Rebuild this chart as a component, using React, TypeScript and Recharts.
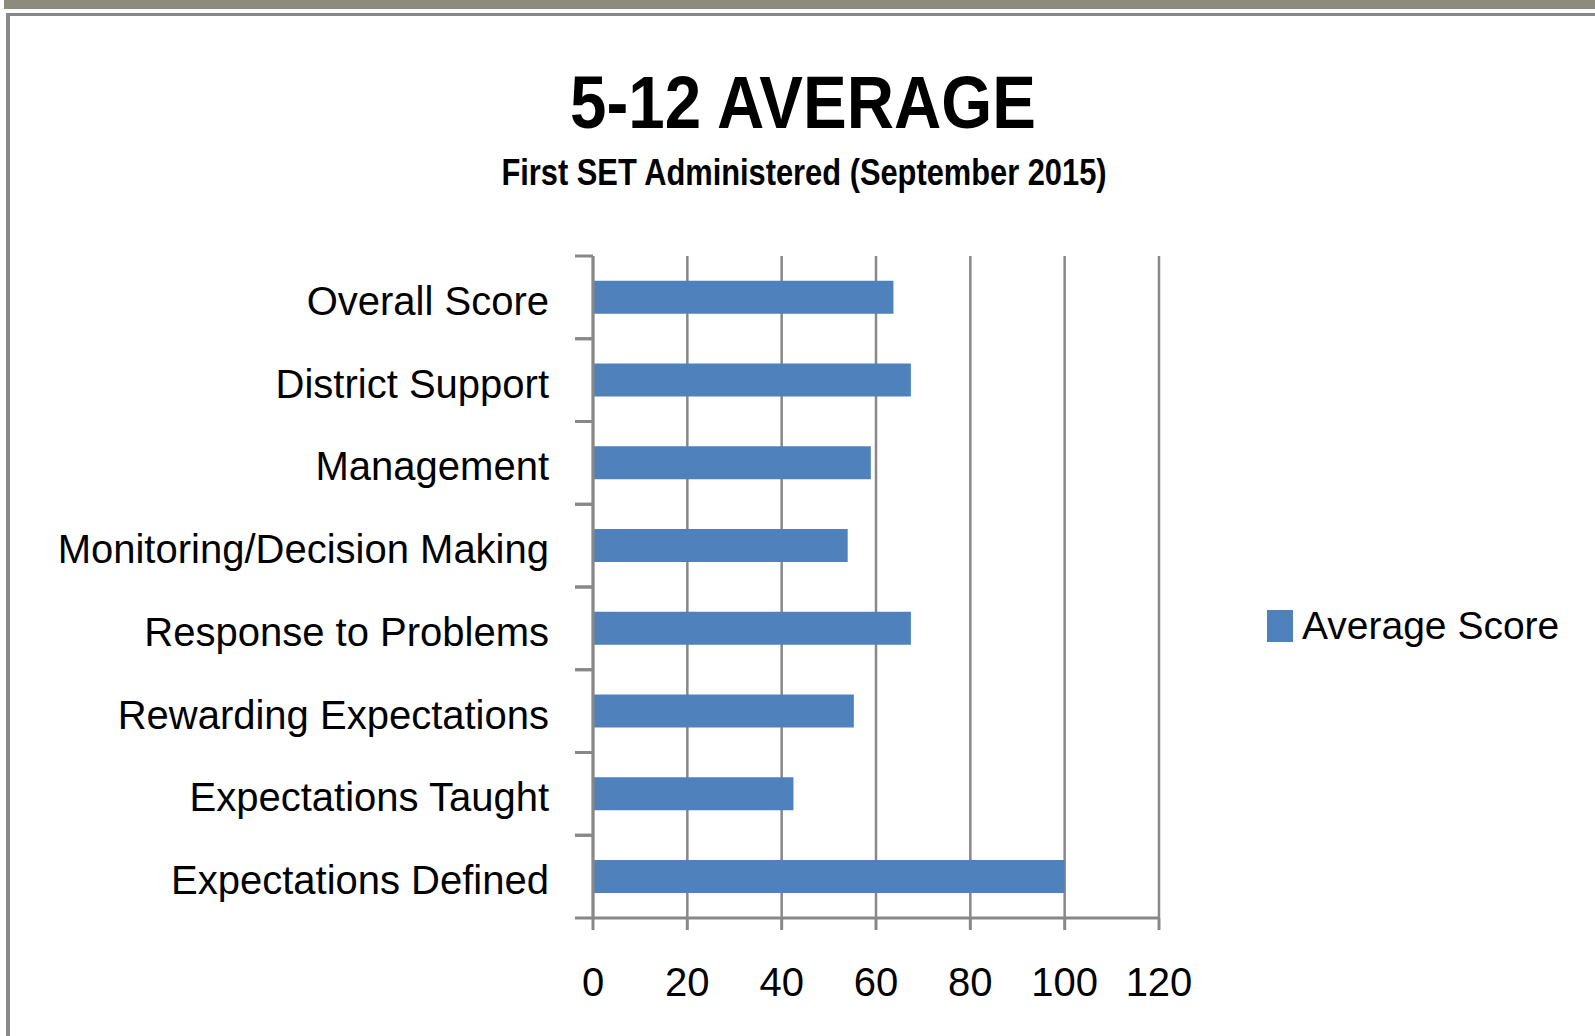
import React from 'react';
import {BarChart, Bar, XAxis, YAxis, CartesianGrid} from 'recharts';

const categories = [
    'Overall Score',
    'District Support',
    'Management',
    'Monitoring/Decision Making',
    'Response to Problems',
    'Rewarding Expectations',
    'Expectations Taught',
    'Expectations Defined',
];
const averageScore = [63.7, 67.4, 58.9, 54, 67.4, 55.3, 42.5, 100];
const xTicks = [0, 20, 40, 60, 80, 100, 120];

const FONT = '"Liberation Sans", Arial, sans-serif';
const GRAY = '#888888';
const BLUE = '#4f81bd';

const W = 1595;
const H = 1036;
const M = {top: 256, right: 436, bottom: 38, left: 0};
const X_AXIS_H = 80;
const PLOT_H = H - M.top - M.bottom - X_AXIS_H;
const BAND = PLOT_H / categories.length;
const LABEL_GAP = 44;
const CAT_TICK = 18;

const data = categories.map((name, i) => ({name, score: averageScore[i]}));

function CategoryTick(props: any) {
    const {x, y, payload} = props;
    const axisX = x + LABEL_GAP;
    return (
        <g>
            <line x1={axisX - CAT_TICK} x2={axisX} y1={y - BAND / 2} y2={y - BAND / 2} stroke={GRAY} strokeWidth={3}/>
            <line x1={axisX - CAT_TICK} x2={axisX} y1={y + BAND / 2} y2={y + BAND / 2} stroke={GRAY} strokeWidth={3}/>
            <text x={x} y={y} dy="0.44em" textAnchor="end" fontSize={40} fontFamily={FONT} fill="#000">
                {payload.value}
            </text>
        </g>
    );
}

export default function App() {
    return (
        <div style={{position: 'absolute', left: 0, top: 0, width: W, height: H, background: '#fff', overflow: 'hidden'}}>
            <div style={{position: 'absolute', left: 4, top: 0, width: W - 4, height: 9, background: '#8b8c7d'}}/>
            <div style={{
                position: 'absolute', left: 6, top: 13, right: 0, bottom: 0,
                borderTop: `3px solid ${GRAY}`, borderLeft: `4px solid ${GRAY}`
            }}/>
            <div style={{
                position: 'absolute', left: 303, top: 66, width: 1000, textAlign: 'center',
                fontFamily: FONT, fontWeight: 'bold', fontSize: 74, lineHeight: '74px', color: '#000',
                transform: 'scaleX(0.885)', whiteSpace: 'nowrap'
            }}>
                5-12 AVERAGE
            </div>
            <div style={{
                position: 'absolute', left: 304, top: 155, width: 1000, textAlign: 'center',
                fontFamily: FONT, fontWeight: 'bold', fontSize: 36, lineHeight: '36px', color: '#000',
                transform: 'scaleX(0.856)', whiteSpace: 'nowrap'
            }}>
                First SET Administered (September 2015)
            </div>
            <div style={{position: 'absolute', left: 0, top: 0}}>
                <BarChart width={W} height={H} data={data} layout="vertical" margin={M} barCategoryGap="30%">
                    <CartesianGrid horizontal={false} stroke={GRAY} strokeWidth={2.5}/>
                    <XAxis
                        type="number"
                        domain={[0, 120]}
                        ticks={xTicks}
                        interval={0}
                        height={X_AXIS_H}
                        tickSize={12}
                        tickMargin={38}
                        stroke={GRAY}
                        axisLine={{stroke: GRAY, strokeWidth: 3}}
                        tickLine={{stroke: GRAY, strokeWidth: 3}}
                        tick={{fontSize: 40, fontFamily: FONT, fill: '#000'}}
                    />
                    <YAxis
                        type="category"
                        dataKey="name"
                        width={593}
                        tickSize={0}
                        tickMargin={LABEL_GAP}
                        interval={0}
                        axisLine={{stroke: GRAY, strokeWidth: 3}}
                        tickLine={false}
                        tick={<CategoryTick/>}
                    />
                    <Bar dataKey="score" name="Average Score" fill={BLUE} isAnimationActive={false}/>
                </BarChart>
            </div>
            <div style={{
                position: 'absolute', left: 1267, top: 604, display: 'flex', alignItems: 'center',
                fontFamily: FONT, fontSize: 39, color: '#000', whiteSpace: 'nowrap'
            }}>
                <span style={{display: 'inline-block', width: 26, height: 32, background: BLUE, marginRight: 9}}/>
                <span>Average Score</span>
            </div>
        </div>
    );
}
